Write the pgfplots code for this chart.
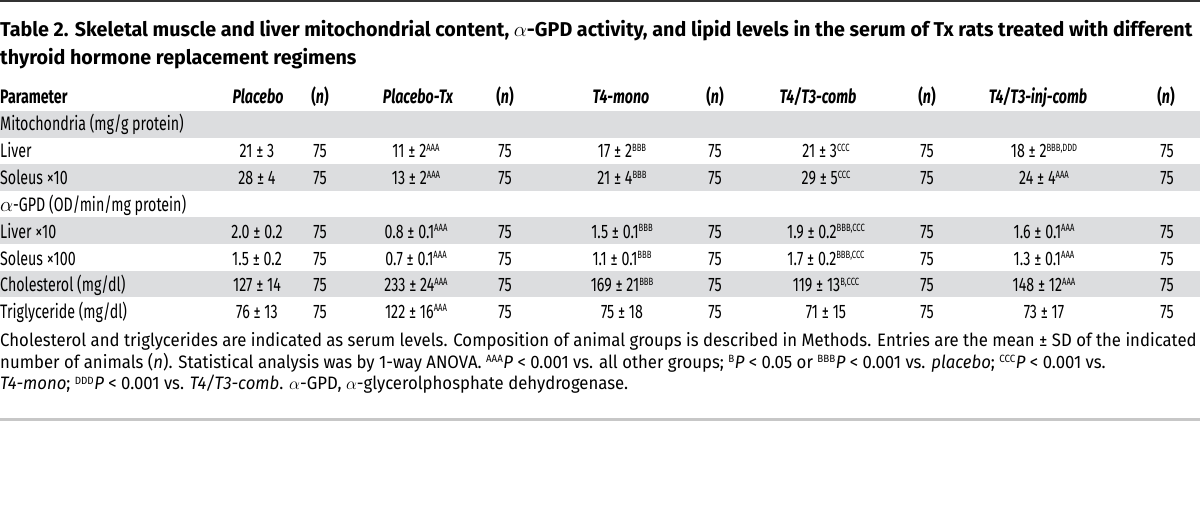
\documentclass[border=0pt]{standalone}
\usepackage{fontspec}
\setmainfont{Fira Sans}
\newfontfamily\cond[FakeStretch=0.73]{Fira Sans}
\newfontfamily\titlef[FakeStretch=0.985]{Fira Sans}
\newfontfamily\footf[FakeStretch=0.93]{Fira Sans}
\usepackage{pgfplots}
\pgfplotsset{compat=1.18}
\definecolor{band}{HTML}{DCDDDF}
\newcommand{\sps}[1]{\raisebox{0.34em}{\fontsize{10.5}{10.5}\selectfont #1}}
\newcommand{\fsp}[1]{\raisebox{0.3em}{\fontsize{10.5}{10.5}\selectfont #1}\hspace{0.5pt}}
\tikzset{cell/.style={anchor=base,inner sep=0pt,font=\cond\fontsize{19.5}{19.5}\selectfont},
 lab/.style={anchor=base west,inner sep=0pt,font=\cond\fontsize{19.5}{19.5}\selectfont},
 hd/.style={anchor=base,inner sep=0pt,font=\cond\fontsize{19.5}{19.5}\selectfont\bfseries\itshape},
 ft/.style={anchor=base west,inner sep=0pt,font=\footf\fontsize{18}{18}\selectfont}}
\newcommand{\datarow}[6]{%
 \node[cell] at (axis cs:257,#1) {#2};
 \node[cell] at (axis cs:320,#1) {75};
 \node[cell] at (axis cs:416,#1) {#3};
 \node[cell] at (axis cs:505,#1) {75};
 \node[cell] at (axis cs:622,#1) {#4};
 \node[cell] at (axis cs:715,#1) {75};
 \node[cell] at (axis cs:826,#1) {#5};
 \node[cell] at (axis cs:927,#1) {75};
 \node[cell] at (axis cs:1044,#1) {#6};
 \node[cell] at (axis cs:1167,#1) {75};
}
\begin{document}
\begin{tikzpicture}
\begin{axis}[name=ax, width=1200pt, height=511pt, scale only axis,
  xmin=0, xmax=1200, ymin=0, ymax=511, y dir=reverse, hide axis, clip=false]
% grey bands
\addplot[fill=band, draw=none] coordinates {(0,111) (1200,111) (1200,137.6) (0,137.6)} -- cycle;
\addplot[fill=band, draw=none] coordinates {(0,164.2) (1200,164.2) (1200,190.8) (0,190.8)} -- cycle;
\addplot[fill=band, draw=none] coordinates {(0,217.4) (1200,217.4) (1200,244) (0,244)} -- cycle;
\addplot[fill=band, draw=none] coordinates {(0,270.6) (1200,270.6) (1200,297.2) (0,297.2)} -- cycle;
% rules
\addplot[draw=black!80, line width=2pt] coordinates {(0,1) (1200,1)};
\addplot[draw=black!22, line width=2.5pt] coordinates {(0,419.5) (1200,419.5)};
% title
\node[anchor=base west, inner sep=0pt, font=\titlef\fontsize{20}{20}\selectfont\bfseries] at (axis cs:0,36.7)
 {Table 2. Skeletal muscle and liver mitochondrial content, $\alpha$-GPD activity, and lipid levels in the serum of Tx rats treated with different};
\node[anchor=base west, inner sep=0pt, font=\titlef\fontsize{20}{20}\selectfont\bfseries] at (axis cs:0,65)
 {thyroid hormone replacement regimens};
% header
\node[lab, font=\cond\fontsize{19.5}{19.5}\selectfont\bfseries] at (axis cs:0,103.3) {Parameter};
\node[hd] at (axis cs:258,103.3) {Placebo};
\node[hd] at (axis cs:320,103.3) {\upshape(\itshape n\upshape)};
\node[hd] at (axis cs:418,103.3) {Placebo-Tx};
\node[hd] at (axis cs:505,103.3) {\upshape(\itshape n\upshape)};
\node[hd] at (axis cs:621,103.3) {T4-mono};
\node[hd] at (axis cs:715,103.3) {\upshape(\itshape n\upshape)};
\node[hd] at (axis cs:818,103.3) {T4/T3-comb};
\node[hd] at (axis cs:927,103.3) {\upshape(\itshape n\upshape)};
\node[hd] at (axis cs:1038,103.3) {T4/T3-inj-comb};
\node[hd] at (axis cs:1166,103.3) {\upshape(\itshape n\upshape)};
% rows
\node[lab] at (axis cs:0,130.7) {Mitochondria (mg/g protein)};
\node[lab] at (axis cs:0,158) {Liver};
\datarow{158}{21 ± 3}{11 ± 2\sps{AAA}}{17 ± 2\sps{BBB}}{21 ± 3\sps{CCC}}{18 ± 2\sps{BBB,DDD}}
\node[lab] at (axis cs:0,185) {Soleus ×10};
\datarow{185}{28 ± 4}{13 ± 2\sps{AAA}}{21 ± 4\sps{BBB}}{29 ± 5\sps{CCC}}{24 ± 4\sps{AAA}}
\node[lab] at (axis cs:0,211.7) {$\alpha$-GPD (OD/min/mg protein)};
\node[lab] at (axis cs:0,238) {Liver ×10};
\datarow{238}{2.0 ± 0.2}{0.8 ± 0.1\sps{AAA}}{1.5 ± 0.1\sps{BBB}}{1.9 ± 0.2\sps{BBB,CCC}}{1.6 ± 0.1\sps{AAA}}
\node[lab] at (axis cs:0,265) {Soleus ×100};
\datarow{265}{1.5 ± 0.2}{0.7 ± 0.1\sps{AAA}}{1.1 ± 0.1\sps{BBB}}{1.7 ± 0.2\sps{BBB,CCC}}{1.3 ± 0.1\sps{AAA}}
\node[lab] at (axis cs:0,291.7) {Cholesterol (mg/dl)};
\datarow{291.7}{127 ± 14}{233 ± 24\sps{AAA}}{169 ± 21\sps{BBB}}{119 ± 13\sps{B,CCC}}{148 ± 12\sps{AAA}}
\node[lab] at (axis cs:0,318) {Triglyceride (mg/dl)};
\datarow{318}{76 ± 13}{122 ± 16\sps{AAA}}{75 ± 18}{71 ± 15}{73 ± 17}
% footnote
\node[ft] at (axis cs:0,346.5) {Cholesterol and triglycerides are indicated as serum levels. Composition of animal groups is described in Methods. Entries are the mean ± SD of the indicated};
\node[ft] at (axis cs:0,368) {number of animals (\textit{n}). Statistical analysis was by 1-way ANOVA. \fsp{AAA}\textit{P} < 0.001 vs. all other groups; \fsp{B}\textit{P} < 0.05 or \fsp{BBB}\textit{P} < 0.001 vs. \textit{placebo}; \fsp{CCC}\textit{P} < 0.001 vs.};
\node[ft] at (axis cs:0,389.5) {\textit{T4-mono}; \fsp{DDD}\textit{P} < 0.001 vs. \textit{T4/T3-comb}. $\alpha$-GPD, $\alpha$-glycerolphosphate dehydrogenase.};
\end{axis}
\pgfresetboundingbox
\path (ax.south west) rectangle (ax.north east);
\end{tikzpicture}
\end{document}
